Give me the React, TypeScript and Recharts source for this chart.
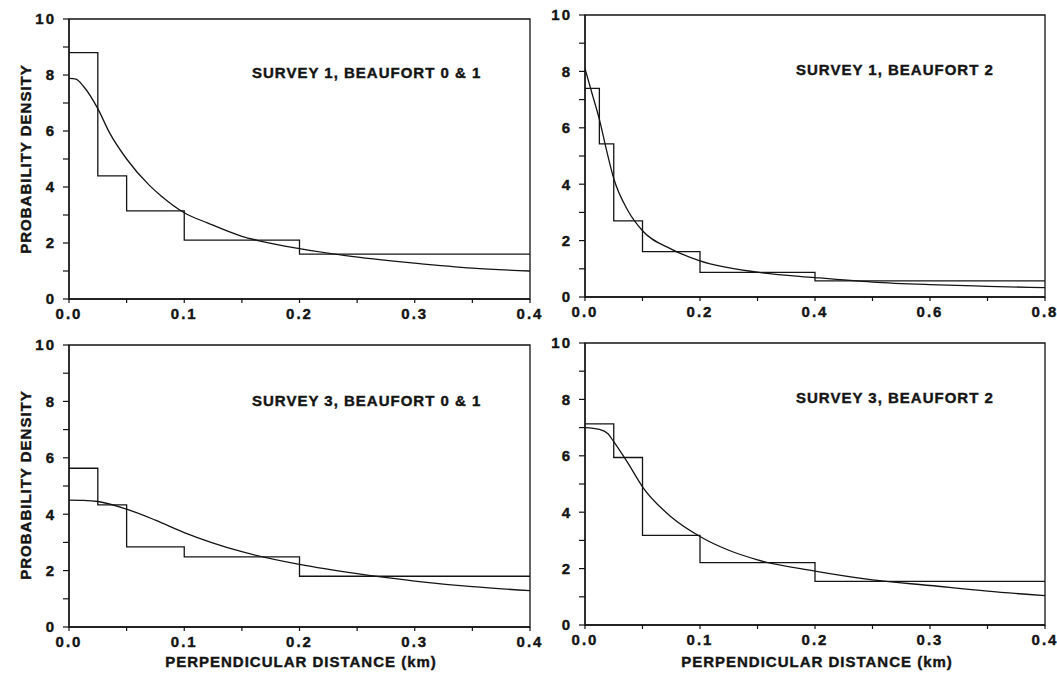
import { LineChart, Line, XAxis, YAxis, ReferenceArea } from "recharts";

// histogram bin edges (km) and heights (probability density)
const edgesShort = [0, 0.025, 0.05, 0.1, 0.2, 0.4];
const edgesLong = [0, 0.025, 0.05, 0.1, 0.2, 0.4, 0.8];

const s1b01Heights = [8.8, 4.4, 3.15, 2.1, 1.6];
const s1b2Heights = [7.4, 5.43, 2.7, 1.61, 0.87, 0.57];
const s3b01Heights = [5.63, 4.33, 2.84, 2.49, 1.8];
const s3b2Heights = [7.13, 5.94, 3.18, 2.21, 1.55];

// fitted detection curves
const s1b01CurveX = [0, 0.006, 0.0125, 0.025, 0.035, 0.05, 0.07, 0.08, 0.1, 0.12, 0.15, 0.165, 0.2, 0.24, 0.3, 0.35, 0.4];
const s1b01CurveY = [7.88, 7.85, 7.6, 6.8, 5.95, 5.0, 4.05, 3.68, 3.08, 2.72, 2.24, 2.08, 1.8, 1.55, 1.28, 1.1, 1.0];

const s1b2CurveX = [0, 0.0125, 0.025, 0.0375, 0.05, 0.075, 0.1, 0.15, 0.2, 0.3, 0.4, 0.5, 0.6, 0.7, 0.8];
const s1b2CurveY = [8.1, 7.2, 6.3, 5.2, 4.2, 3.05, 2.35, 1.7, 1.28, 0.88, 0.69, 0.53, 0.44, 0.38, 0.33];

const s3b01CurveX = [0, 0.0125, 0.025, 0.05, 0.075, 0.1, 0.15, 0.2, 0.25, 0.3, 0.35, 0.4];
const s3b01CurveY = [4.5, 4.49, 4.45, 4.18, 3.79, 3.35, 2.67, 2.22, 1.89, 1.63, 1.43, 1.29];

const s3b2CurveX = [0, 0.0125, 0.02, 0.025, 0.0375, 0.05, 0.075, 0.1, 0.125, 0.15, 0.2, 0.25, 0.3, 0.35, 0.4];
const s3b2CurveY = [7.0, 6.94, 6.78, 6.5, 5.73, 4.9, 3.83, 3.14, 2.65, 2.31, 1.91, 1.6, 1.4, 1.2, 1.04];

const yTicks = [0, 1, 2, 3, 4, 5, 6, 7, 8, 9, 10];
const xTicksShort = [0, 0.05, 0.1, 0.15, 0.2, 0.25, 0.3, 0.35, 0.4];
const xTicksLong = [0, 0.1, 0.2, 0.3, 0.4, 0.5, 0.6, 0.7, 0.8];

const titles = [
  "SURVEY 1, BEAUFORT 0 & 1",
  "SURVEY 1, BEAUFORT 2",
  "SURVEY 3, BEAUFORT 0 & 1",
  "SURVEY 3, BEAUFORT 2",
];
const yLabel = "PROBABILITY DENSITY";
const xLabel = "PERPENDICULAR DISTANCE (km)";

const INK = "#141414";
const FONT = '"Liberation Sans", Arial, Helvetica, sans-serif';

const textStyle = {
  position: "absolute" as const,
  fontFamily: FONT,
  fontWeight: 700,
  fontSize: 15,
  letterSpacing: 1,
  lineHeight: "15px",
  color: INK,
  WebkitTextStroke: "0.4px #141414",
  whiteSpace: "nowrap" as const,
};

const tickStyle = {
  fontSize: 15,
  fontWeight: 700,
  fontFamily: FONT,
  fill: INK,
  stroke: INK,
  strokeWidth: 0.4,
  letterSpacing: 2,
};

function stepPoints(edges: number[], heights: number[]) {
  const pts = heights.map((h, i) => ({ x: edges[i], y: h }));
  pts.push({ x: edges[edges.length - 1], y: heights[heights.length - 1] });
  return pts;
}

function curvePoints(xs: number[], ys: number[]) {
  return xs.map((x, i) => ({ x, y: ys[i] }));
}

interface PanelProps {
  left: number;
  top: number;
  plotW: number;
  plotH: number;
  xMax: number;
  xTicks: number[];
  majorEvery: number;
  hist: Array<{ x: number; y: number }>;
  curve: Array<{ x: number; y: number }>;
}

const ML = 60;
const MT = 10;
const MR = 12;
const XH = 30;

function Panel({ left, top, plotW, plotH, xMax, xTicks, majorEvery, hist, curve }: PanelProps) {
  const width = plotW + ML + MR;
  const height = plotH + MT + XH;
  return (
    <div style={{ position: "absolute", left: left - ML, top: top - MT }}>
      <LineChart
        width={width}
        height={height}
        margin={{ top: MT, right: MR, bottom: 0, left: 0 }}
      >
        <XAxis
          type="number"
          dataKey="x"
          domain={[0, xMax]}
          ticks={xTicks}
          interval={0}
          allowDataOverflow
          height={XH}
          tickSize={4}
          tickMargin={5}
          tick={tickStyle}
          tickLine={{ stroke: INK, strokeWidth: 1.2 }}
          axisLine={{ stroke: INK, strokeWidth: 1.3 }}
          tickFormatter={(v: number) => {
            const tenths = Math.round(v * 10);
            const isMajor =
              Math.abs(v * 10 - tenths) < 1e-6 && tenths % majorEvery === 0;
            return isMajor ? v.toFixed(1) : "";
          }}
        />
        <YAxis
          type="number"
          dataKey="y"
          domain={[0, 10]}
          ticks={yTicks}
          interval={0}
          allowDataOverflow
          width={ML}
          tickSize={6}
          tickMargin={7}
          tick={tickStyle}
          tickLine={{ stroke: INK, strokeWidth: 1.2 }}
          axisLine={{ stroke: INK, strokeWidth: 1.3 }}
          tickFormatter={(v: number) => (v % 2 === 0 ? String(v) : "")}
        />
        <ReferenceArea
          x1={0}
          x2={xMax}
          y1={0}
          y2={10}
          fill="none"
          fillOpacity={0}
          stroke={INK}
          strokeWidth={1.3}
        />
        <Line
          data={hist}
          dataKey="y"
          type="stepAfter"
          stroke={INK}
          strokeWidth={1.3}
          dot={false}
          activeDot={false}
          isAnimationActive={false}
        />
        <Line
          data={curve}
          dataKey="y"
          type="monotone"
          stroke={INK}
          strokeWidth={1.3}
          dot={false}
          activeDot={false}
          isAnimationActive={false}
        />
      </LineChart>
    </div>
  );
}

export default function App() {
  return (
    <div
      style={{
        position: "absolute",
        left: 0,
        top: 0,
        width: 1057,
        height: 680,
        background: "#fff",
        overflow: "hidden",
      }}
    >
      <Panel
        left={69}
        top={19}
        plotW={461}
        plotH={280}
        xMax={0.4}
        xTicks={xTicksShort}
        majorEvery={1}
        hist={stepPoints(edgesShort, s1b01Heights)}
        curve={curvePoints(s1b01CurveX, s1b01CurveY)}
      />
      <Panel
        left={585}
        top={15}
        plotW={460}
        plotH={282}
        xMax={0.8}
        xTicks={xTicksLong}
        majorEvery={2}
        hist={stepPoints(edgesLong, s1b2Heights)}
        curve={curvePoints(s1b2CurveX, s1b2CurveY)}
      />
      <Panel
        left={69}
        top={345}
        plotW={461}
        plotH={282}
        xMax={0.4}
        xTicks={xTicksShort}
        majorEvery={1}
        hist={stepPoints(edgesShort, s3b01Heights)}
        curve={curvePoints(s3b01CurveX, s3b01CurveY)}
      />
      <Panel
        left={585}
        top={343}
        plotW={460}
        plotH={282}
        xMax={0.4}
        xTicks={xTicksShort}
        majorEvery={1}
        hist={stepPoints(edgesShort, s3b2Heights)}
        curve={curvePoints(s3b2CurveX, s3b2CurveY)}
      />

      <div style={{ ...textStyle, left: 252, top: 65 }}>{titles[0]}</div>
      <div style={{ ...textStyle, left: 796, top: 62 }}>{titles[1]}</div>
      <div style={{ ...textStyle, left: 252, top: 393 }}>{titles[2]}</div>
      <div style={{ ...textStyle, left: 796, top: 390 }}>{titles[3]}</div>

      <div
        style={{
          ...textStyle,
          left: 25,
          top: 159,
          transform: "translate(-50%, -50%) rotate(-90deg)",
        }}
      >
        {yLabel}
      </div>
      <div
        style={{
          ...textStyle,
          left: 25,
          top: 485,
          transform: "translate(-50%, -50%) rotate(-90deg)",
        }}
      >
        {yLabel}
      </div>

      <div style={{ ...textStyle, left: 301, top: 654, transform: "translateX(-50%)" }}>
        {xLabel}
      </div>
      <div style={{ ...textStyle, left: 817, top: 654, transform: "translateX(-50%)" }}>
        {xLabel}
      </div>
    </div>
  );
}
